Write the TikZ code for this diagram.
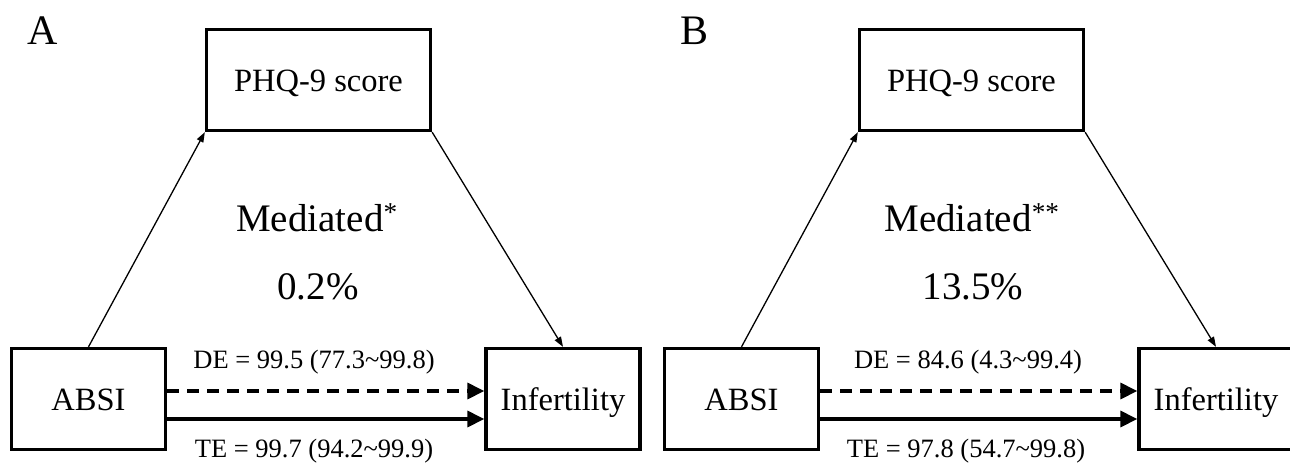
\documentclass[tikz,border=0pt]{standalone}
\usepackage{fontspec}
\setmainfont{Liberation Serif}
\usetikzlibrary{arrows.meta,positioning}

\begin{document}
\begin{tikzpicture}[
  x=1pt,y=-1pt,
  box/.style={draw,line width=3.3pt,inner sep=0pt,minimum width=154pt,
    minimum height=101pt,text height=22pt,text depth=0pt,
    font=\fontsize{32.5}{38}\selectfont},
  medbox/.style={box,minimum width=224pt},
  panel/.style={anchor=base west,font=\fontsize{42}{48}\selectfont},
  big/.style={anchor=base,font=\fontsize{39}{44}\selectfont},
  effect/.style={anchor=base,font=\fontsize{26.5}{30}\selectfont},
  thin/.style={-{Triangle[length=10pt,width=7pt]},line width=1.3pt},
  thick/.style={-{Triangle[length=17pt,width=16pt]},line width=3.3pt},
  direct/.style={thick,dash pattern=on 12pt off 8pt}
]
\useasboundingbox (0,0) rectangle (1290,463);

% panel A
\node[panel] (labA) at (24,44) {A};
\node[medbox] (phqA) at (318.5,80) {PHQ-9 score};
\node[box] (absiA) at (88.5,399) {ABSI};
\node[box] (infA) at (563,399) {Infertility};
\node[big] (medA) at (317,231) {Mediated\textsuperscript{*}};
\node[big] (pctA) at (318,299) {0.2\%};
\node[effect] (deA) at (314,368) {DE = 99.5 (77.3\textasciitilde 99.8)};
\node[effect] (teA) at (314,457) {TE = 99.7 (94.2\textasciitilde 99.9)};
\draw[thin] (absiA.north) -- (phqA.south west);
\draw[thin] (phqA.south east) -- (infA.north);
\draw[direct] ([yshift=8pt]absiA.east) -- ([yshift=8pt]infA.west);
\draw[thick] ([yshift=-20pt]absiA.east) -- ([yshift=-20pt]infA.west);

% panel B
\begin{scope}[xshift=653pt]
\node[panel] (labB) at (24,44) {B};
\node[medbox] (phqB) at (318.5,80) {PHQ-9 score};
\node[box] (absiB) at (88.5,399) {ABSI};
\node[box] (infB) at (563,399) {Infertility};
\node[big] (medB) at (319,231) {Mediated\textsuperscript{**}};
\node[big] (pctB) at (320,299) {13.5\%};
\node[effect] (deB) at (315,368) {DE = 84.6 (4.3\textasciitilde 99.4)};
\node[effect] (teB) at (313,457) {TE = 97.8 (54.7\textasciitilde 99.8)};
\draw[thin] (absiB.north) -- (phqB.south west);
\draw[thin] (phqB.south east) -- (infB.north);
\draw[direct] ([yshift=8pt]absiB.east) -- ([yshift=8pt]infB.west);
\draw[thick] ([yshift=-20pt]absiB.east) -- ([yshift=-20pt]infB.west);
\end{scope}
\end{tikzpicture}
\end{document}
